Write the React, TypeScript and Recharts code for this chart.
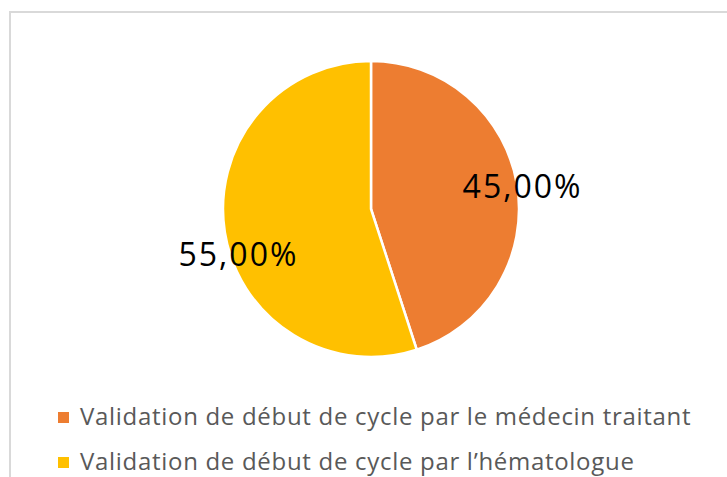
import React from "react";
import { PieChart, Pie, Cell, Legend } from "recharts";

const categories = [
  "Validation de début de cycle par le médecin traitant",
  "Validation de début de cycle par l\u2019hématologue",
];
const values = [45, 55];
const labels = ["45,00%", "55,00%"];
const colors = ["#ED7D31", "#FFC000"];

const data = categories.map((name, i) => ({ name, value: values[i], label: labels[i] }));

const RAD = Math.PI / 180;
const labelNudge = [
  [1, 0],
  [18, 21],
];

const renderLabel = (props: any) => {
  const { cx, cy, midAngle, outerRadius, index } = props;
  const r = outerRadius * 1.03;
  const x = cx + r * Math.cos(-midAngle * RAD) + labelNudge[index][0];
  const y = cy + r * Math.sin(-midAngle * RAD) + labelNudge[index][1];
  return (
    <text
      x={x}
      y={y}
      textAnchor="middle"
      dominantBaseline="central"
      fill="#000000"
      fontSize={32}
      letterSpacing={2}
      fontFamily="'Open Sans', sans-serif"
    >
      {data[index].label}
    </text>
  );
};

const renderLegend = () => (
  <div style={{ fontFamily: "'Open Sans', sans-serif" }}>
    {data.map((d, i) => (
      <div
        key={d.name}
        style={{ display: "flex", alignItems: "center", height: 45, whiteSpace: "nowrap" }}
      >
        <div
          style={{
            width: 11,
            height: 11,
            background: colors[i],
            marginTop: 3,
            marginRight: 11,
            flexShrink: 0,
          }}
        />
        <span style={{ fontSize: 24, letterSpacing: 0.7, color: "#595959", lineHeight: "45px" }}>
          {d.name}
        </span>
      </div>
    ))}
  </div>
);

export default function App() {
  return (
    <div
      style={{
        position: "absolute",
        left: 0,
        top: 0,
        width: 727,
        height: 477,
        overflow: "hidden",
        background: "#ffffff",
      }}
    >
      <div
        style={{
          position: "absolute",
          left: 9,
          top: 11,
          width: 800,
          height: 600,
          border: "2px solid #D9D9D9",
          boxSizing: "border-box",
        }}
      />
      <div style={{ position: "absolute", left: 0, top: 0 }}>
        <PieChart width={727} height={477} margin={{ top: 0, right: 0, bottom: 0, left: 0 }}>
          <Pie
            data={data}
            dataKey="value"
            nameKey="name"
            cx={371}
            cy={209}
            outerRadius={148}
            startAngle={90}
            endAngle={-270}
            stroke="#ffffff"
            strokeWidth={2.5}
            label={renderLabel}
            labelLine={false}
            isAnimationActive={false}
          >
            {data.map((d, i) => (
              <Cell key={d.name} fill={colors[i]} />
            ))}
          </Pie>
          <Legend
            content={renderLegend}
            layout="horizontal"
            verticalAlign="bottom"
            align="left"
            wrapperStyle={{ position: "absolute", left: 58, top: 393, bottom: "auto", width: 665 }}
          />
        </PieChart>
      </div>
    </div>
  );
}
